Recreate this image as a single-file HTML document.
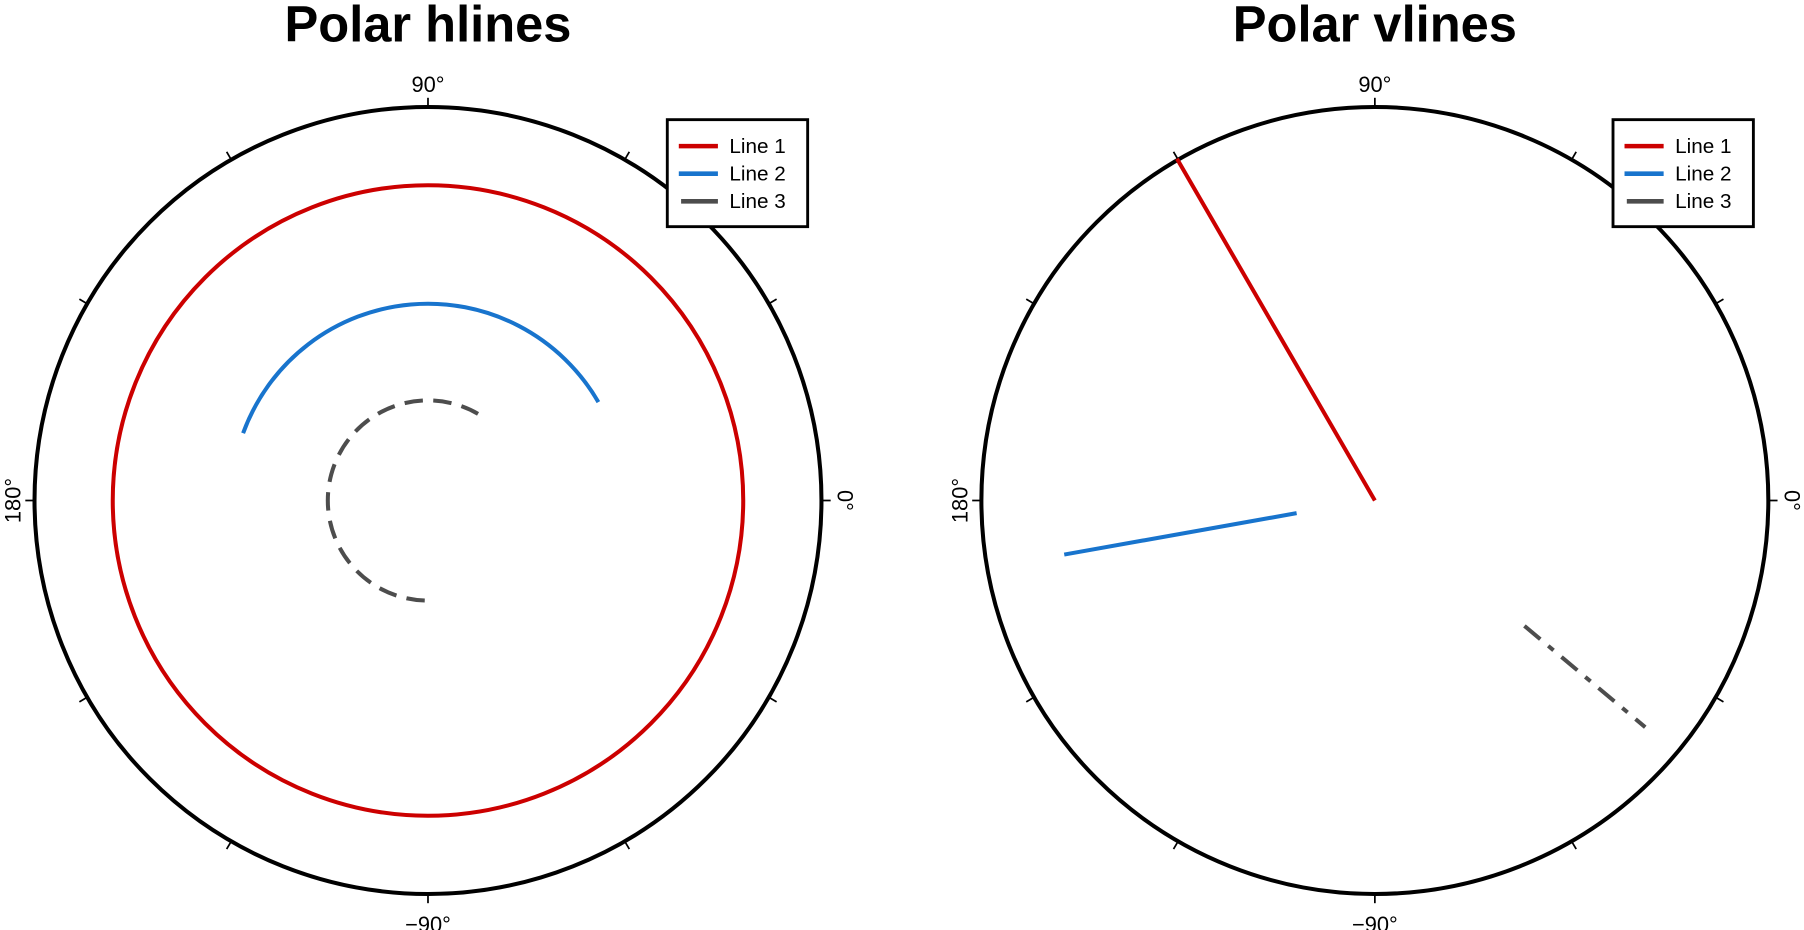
<!DOCTYPE html>
<html><head><meta charset="utf-8"><style>body{margin:0;background:#fff}svg{display:block}</style></head>
<body>
<svg width="1804" height="930" viewBox="0 0 1568 808.3" preserveAspectRatio="none" xmlns="http://www.w3.org/2000/svg" font-family="Liberation Sans, sans-serif">
<rect width="1568" height="808.3" fill="#fff"/>
<defs>
<g id="frame">
<circle cx="0" cy="0" r="342" fill="none" stroke="#000" stroke-width="3.5"/>
<g stroke="#000" stroke-width="1.5">
<line x1="342" y1="0" x2="350" y2="0"/><line x1="-342" y1="0" x2="-350" y2="0"/>
<line x1="0" y1="342" x2="0" y2="350"/><line x1="0" y1="-342" x2="0" y2="-350"/>
<line x1="296.2" y1="-171" x2="303" y2="-175"/><line x1="171" y1="-296.2" x2="175" y2="-303"/>
<line x1="-296.2" y1="-171" x2="-303" y2="-175"/><line x1="-171" y1="-296.2" x2="-175" y2="-303"/>
<line x1="296.2" y1="171" x2="303" y2="175"/><line x1="171" y1="296.2" x2="175" y2="303"/>
<line x1="-296.2" y1="171" x2="-303" y2="175"/><line x1="-171" y1="296.2" x2="-175" y2="303"/>
</g>
<text x="0" y="-355" font-size="19" text-anchor="middle">90°</text>
<text x="0" y="375" font-size="19" text-anchor="middle">−90°</text>
<text transform="translate(-354,0) rotate(-90)" font-size="19" text-anchor="middle">180°</text>
<text transform="translate(356,0) rotate(90)" font-size="19" text-anchor="middle">0°</text>
</g>
<g id="legend">
<rect x="0" y="0" width="122" height="93" fill="#fff" stroke="#000" stroke-width="2.5"/>
<line x1="10" y1="23" x2="44" y2="23" stroke="#cc0000" stroke-width="4"/>
<line x1="10" y1="47" x2="44" y2="47" stroke="#1874cd" stroke-width="4"/>
<line x1="12" y1="71" x2="44" y2="71" stroke="#4d4d4d" stroke-width="4"/>
<text x="54" y="29" font-size="18">Line 1</text>
<text x="54" y="53" font-size="18">Line 2</text>
<text x="54" y="77" font-size="18">Line 3</text>
</g>
</defs>
<text x="372" y="36" font-size="44" font-weight="bold" text-anchor="middle">Polar hlines</text>
<text x="1195" y="36" font-size="44" font-weight="bold" text-anchor="middle">Polar vlines</text>
<g transform="translate(372,435)">
<use href="#frame"/>
<circle r="274" fill="none" stroke="#cc0000" stroke-width="3.5"/>
<path d="M -160.7 -58.5 A 171 171 0 0 1 148.1 -85.5" fill="none" stroke="#1874cd" stroke-width="3.5"/>
<path d="M 43.5 -75.3 A 87 87 0 1 0 0 87" fill="none" stroke="#4d4d4d" stroke-width="3.5" stroke-dasharray="16,9"/>
</g>
<use href="#legend" x="580" y="104"/>
<g transform="translate(1195,435)">
<use href="#frame"/>
<line x1="0" y1="0" x2="-172" y2="-297" stroke="#cc0000" stroke-width="3.5"/>
<line x1="-68" y1="11" x2="-270" y2="47" stroke="#1874cd" stroke-width="3.5"/>
<line x1="130" y1="109" x2="235" y2="197" stroke="#4d4d4d" stroke-width="3.5" stroke-dasharray="18,9,6,9"/>
</g>
<use href="#legend" x="1402" y="104"/>
</svg>
</body></html>
